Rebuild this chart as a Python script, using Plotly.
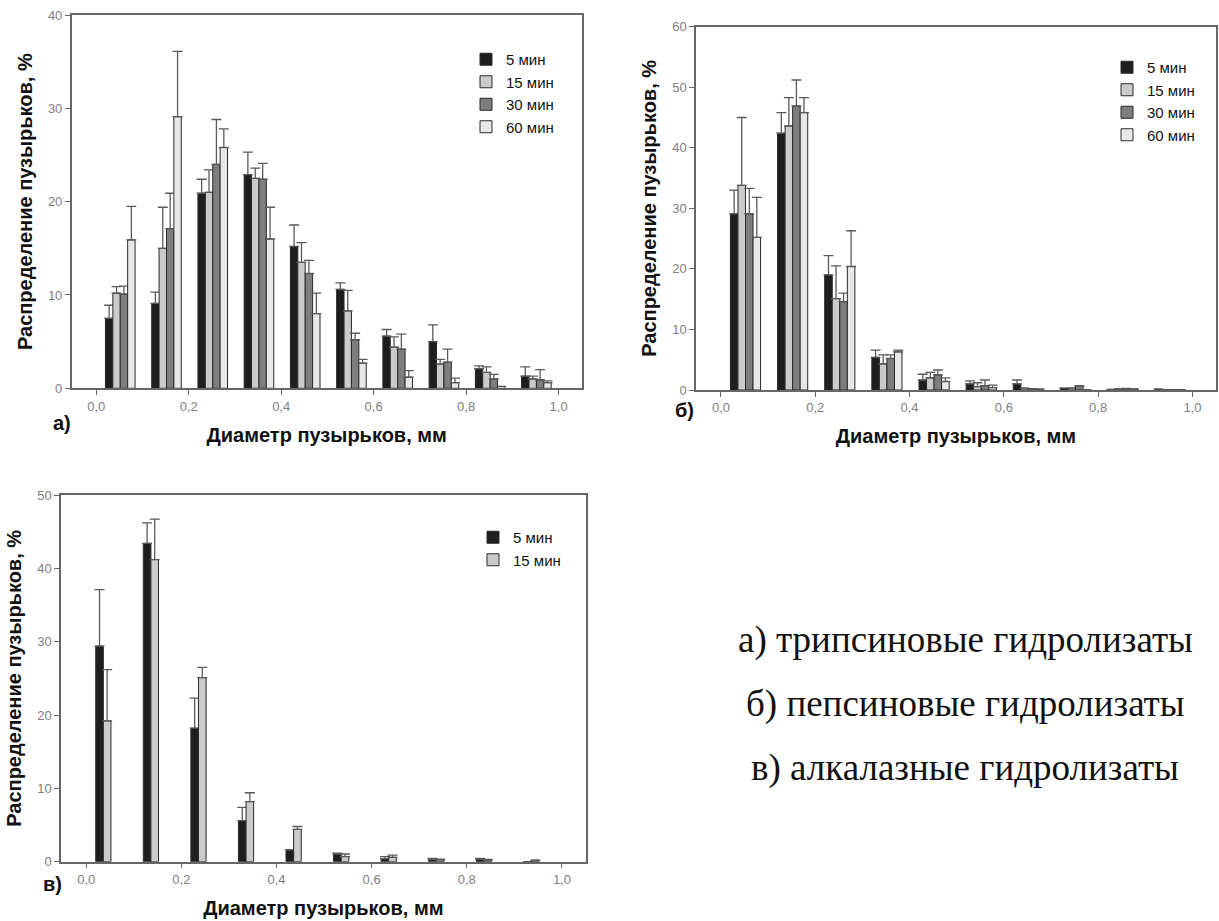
import plotly.graph_objects as go

# ---------------- data ----------------
bins = [0.05, 0.15, 0.25, 0.35, 0.45, 0.55, 0.65, 0.75, 0.85, 0.95]
series_names = ["5 мин", "15 мин", "30 мин", "60 мин"]

# panel а) trypsin hydrolysates
a_5 = [7.5, 9.1, 20.9, 22.9, 15.2, 10.6, 5.6, 5.0, 2.1, 1.3]
a_5_err = [1.4, 1.2, 1.5, 2.4, 2.3, 0.7, 0.7, 1.8, 0.3, 1.0]
a_15 = [10.2, 15.0, 21.0, 22.5, 13.5, 8.3, 4.4, 2.6, 1.7, 1.0]
a_15_err = [0.7, 4.4, 2.4, 1.1, 2.1, 2.2, 1.1, 0.5, 0.6, 0.3]
a_30 = [10.1, 17.1, 24.0, 22.4, 12.3, 5.2, 4.2, 2.8, 1.0, 0.9]
a_30_err = [0.85, 3.8, 4.8, 1.7, 1.4, 0.7, 1.6, 1.4, 0.5, 1.1]
a_60 = [15.9, 29.1, 25.8, 16.0, 8.0, 2.7, 1.2, 0.6, 0.2, 0.6]
a_60_err = [3.6, 7.0, 2.0, 3.4, 2.2, 0.4, 0.7, 0.5, 0.0, 0.2]

# panel б) pepsin hydrolysates
b_5 = [29.1, 42.4, 19.0, 5.4, 1.65, 1.0, 1.0, 0.3, 0.1, 0.15]
b_5_err = [3.9, 3.4, 3.2, 1.2, 0.95, 0.5, 0.65, 0.0, 0.0, 0.0]
b_15 = [33.8, 43.6, 15.1, 4.3, 2.0, 0.55, 0.3, 0.3, 0.2, 0.0]
b_15_err = [11.2, 4.7, 5.4, 1.5, 0.9, 0.65, 0.0, 0.0, 0.0, 0.0]
b_30 = [29.1, 46.9, 14.6, 5.2, 2.5, 0.7, 0.2, 0.6, 0.25, 0.0]
b_30_err = [4.2, 4.3, 1.4, 0.6, 0.8, 0.95, 0.0, 0.1, 0.0, 0.0]
b_60 = [25.2, 45.8, 20.4, 6.3, 1.4, 0.4, 0.15, 0.0, 0.2, 0.0]
b_60_err = [6.6, 2.5, 5.9, 0.3, 0.6, 0.4, 0.0, 0.0, 0.0, 0.0]

# panel в) alcalase hydrolysates
c_5 = [29.4, 43.4, 18.2, 5.6, 1.6, 1.05, 0.4, 0.3, 0.35, 0.0]
c_5_err = [7.7, 2.8, 4.1, 1.8, 0.0, 0.1, 0.3, 0.15, 0.1, 0.0]
c_15 = [19.2, 41.2, 25.1, 8.2, 4.4, 0.7, 0.6, 0.25, 0.2, 0.2]
c_15_err = [7.0, 5.5, 1.4, 1.2, 0.4, 0.35, 0.3, 0.1, 0.1, 0.0]

x_ticks = [0.0, 0.2, 0.4, 0.6, 0.8, 1.0]
x_title = "Диаметр пузырьков, мм"
y_title = "Распределение пузырьков, %"
captions = ["а) трипсиновые гидролизаты",
            "б) пепсиновые гидролизаты",
            "в) алкалазные гидролизаты"]

# ---------------- style ----------------
fill_colors = ["#1e1e1e", "#cbcbcb", "#7e7e7e", "#e8e8e8"]
outline = "#2a2a2a"
bar_w = 0.016
offsets = [-0.03 + i * bar_w for i in range(4)]
FONT = "Arial, Liberation Sans, sans-serif"

fig = go.Figure()


def add_panel(values, errors, xa, ya, legend):
    for i, (v, e) in enumerate(zip(values, errors)):
        fig.add_trace(go.Bar(
            x=bins, y=v, name=series_names[i],
            width=bar_w, offset=offsets[i],
            marker=dict(color=fill_colors[i], line=dict(color=outline, width=1)),
            error_y=dict(type="data", symmetric=False, array=e,
                         arrayminus=[0] * len(e), color="#5a5a5a",
                         thickness=1.3, width=5),
            xaxis=xa, yaxis=ya, legend=legend, showlegend=True,
        ))


add_panel([a_5, a_15, a_30, a_60], [a_5_err, a_15_err, a_30_err, a_60_err], "x", "y", "legend")
add_panel([b_5, b_15, b_30, b_60], [b_5_err, b_15_err, b_30_err, b_60_err], "x2", "y2", "legend2")
add_panel([c_5, c_15], [c_5_err, c_15_err], "x3", "y3", "legend3")

W, H = 1219, 921


def px_x(p):
    return p / W


def px_y(p):
    return 1 - p / H


axis_common = dict(showgrid=False, zeroline=False, showline=True, mirror=True,
                   linecolor="#666666", linewidth=1.5, ticks="outside",
                   ticklen=5, tickwidth=1.3, tickcolor="#666666",
                   tickfont=dict(family=FONT, size=13, color="#808080"))

xrange_ = [-0.053, 1.05]
TITLE_FONT = dict(family=FONT, size=20, color="#111111", weight="bold")


def xaxis(dom, anchor):
    return dict(axis_common, domain=dom, anchor=anchor, range=xrange_,
                tickvals=x_ticks, tickformat=".1f",
                title=dict(text=x_title, standoff=15, font=TITLE_FONT))


def yaxis(dom, anchor, ymax, step):
    return dict(axis_common, domain=dom, anchor=anchor, range=[0, ymax],
                dtick=step, tick0=0,
                title=dict(text=y_title, standoff=10, font=TITLE_FONT))


leg_common = dict(bgcolor="rgba(0,0,0,0)", borderwidth=0, xanchor="left", yanchor="top",
                  font=dict(family=FONT, size=15, color="#111111"),
                  tracegroupgap=0, itemclick=False, itemdoubleclick=False)

fig.update_layout(
    width=W, height=H, autosize=False,
    margin=dict(l=0, r=0, t=0, b=0, autoexpand=False),
    paper_bgcolor="white", plot_bgcolor="white",
    separators=", ",
    barmode="overlay",
    xaxis=xaxis([px_x(71.7), px_x(581.7)], "y"),
    yaxis=yaxis([px_y(388.3), px_y(15)], "x", 40, 10),
    xaxis2=xaxis([px_x(696), px_x(1216)], "y2"),
    yaxis2=yaxis([px_y(390), px_y(26.7)], "x2", 60, 10),
    xaxis3=xaxis([px_x(61), px_x(585.7)], "y3"),
    yaxis3=yaxis([px_y(861.7), px_y(495)], "x3", 50, 10),
    legend=dict(leg_common, x=px_x(466), y=px_y(43)),
    legend2=dict(leg_common, x=px_x(1107), y=px_y(51)),
    legend3=dict(leg_common, x=px_x(473), y=px_y(521)),
    showlegend=True,
)

# panel letters
for txt, xp, yp in [("а)", 62, 423), ("б)", 685, 410), ("в)", 52, 884)]:
    fig.add_annotation(text=txt, x=px_x(xp), y=px_y(yp), xref="paper", yref="paper",
                       showarrow=False, xanchor="center", yanchor="middle",
                       font=dict(family=FONT, size=20, color="#111111", weight="bold"))

# captions
for cap, yp in zip(captions, [640, 704, 768]):
    fig.add_annotation(text=cap, x=px_x(965), y=px_y(yp), xref="paper", yref="paper",
                       showarrow=False, xanchor="center", yanchor="middle",
                       font=dict(family="Liberation Serif, Times New Roman, serif",
                                 size=37, color="#111111"))

fig.write_html("out.html",
               config={"displayModeBar": False},
               post_script="document.body.style.margin='0';document.body.style.overflow='hidden';")
